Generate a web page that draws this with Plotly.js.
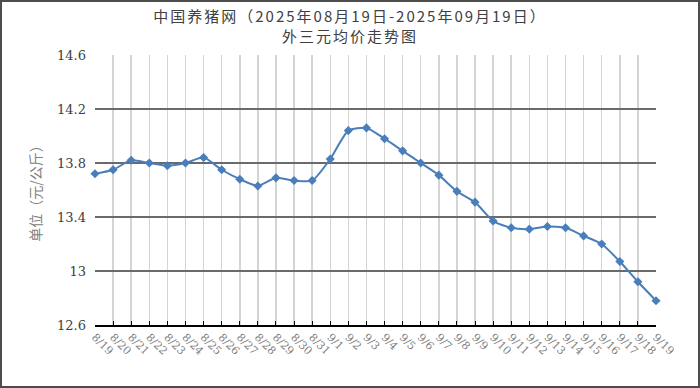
<!DOCTYPE html>
<html>
<head>
<meta charset="utf-8">
<script src="https://cdn.plot.ly/plotly-3.0.1.min.js"></script>
<style>
html,body{margin:0;padding:0;background:#fff;}
#wrap{position:relative;width:700px;height:388px;}
#chart{width:700px;height:388px;}
#frame{position:absolute;left:0;top:0;width:700px;height:388px;box-sizing:border-box;border:2px solid #4d4d4d;pointer-events:none;}
.gtitle{letter-spacing:2px;}
</style>
</head>
<body>
<div id="wrap"><div id="chart"></div><div id="frame"></div></div>
<script>
const titleLine1 = "中国养猪网（2025年08月19日-2025年09月19日）";
const titleLine2 = "外三元均价走势图";
const yAxisTitle = "单位（元/公斤）";
const dates = ["8/19","8/20","8/21","8/22","8/23","8/24","8/25","8/26","8/27","8/28","8/29","8/30","8/31",
  "9/1","9/2","9/3","9/4","9/5","9/6","9/7","9/8","9/9","9/10","9/11","9/12","9/13","9/14","9/15","9/16","9/17","9/18","9/19"];
const prices = [13.72,13.75,13.82,13.80,13.78,13.80,13.84,13.75,13.68,13.63,13.69,13.67,13.67,
  13.83,14.04,14.06,13.98,13.89,13.80,13.71,13.59,13.51,13.37,13.32,13.31,13.33,13.32,13.26,13.20,13.07,12.92,12.78];
const yTickVals = [12.6,13.0,13.4,13.8,14.2,14.6];
const yTickText = ["12.6","13","13.4","13.8","14.2","14.6"];

const serif = "DejaVu Serif, Noto Sans CJK SC, serif";

Plotly.newPlot("chart", [{
  x: dates, y: prices, type: "scatter", mode: "lines+markers",
  line: {color: "#4a7ebb", width: 2, shape: "spline", smoothing: 0.6},
  marker: {symbol: "diamond", size: 7, color: "#4a7ebb"},
  cliponaxis: false, hoverinfo: "x+y"
}], {
  width: 700, height: 388,
  margin: {l: 95, r: 44, t: 55, b: 63, pad: 0},
  paper_bgcolor: "#fff", plot_bgcolor: "#fff",
  showlegend: false,
  title: {text: titleLine1 + "<br>" + titleLine2, x: 0.5, xanchor: "center", y: 0.943, yanchor: "top",
    font: {family: "Noto Sans CJK SC, sans-serif", size: 15, color: "#404040"}},
  xaxis: {type: "category", range: [0, dates.length - 1], showgrid: true, gridcolor: "#d4d4d4", gridwidth: 1.5,
    showline: true, linecolor: "#000", linewidth: 1.5, ticks: "inside", ticklen: 4, tickcolor: "#000", tickwidth: 1,
    tickangle: 45, tickfont: {family: serif, size: 11, color: "#808080"}, zeroline: false, automargin: false},
  yaxis: {range: [12.6, 14.6], tickvals: yTickVals, ticktext: yTickText, showgrid: true, gridcolor: "#6a6a6a", gridwidth: 2,
    showline: false, zeroline: false, ticks: "", tickfont: {family: serif, size: 13, color: "#404040"}, ticklabelstandoff: 8,
    title: {text: yAxisTitle, standoff: 12, font: {family: "Noto Sans CJK SC, sans-serif", size: 14, color: "#808080"}}, automargin: false}
}, {displayModeBar: false, staticPlot: true});
</script>
</body>
</html>
